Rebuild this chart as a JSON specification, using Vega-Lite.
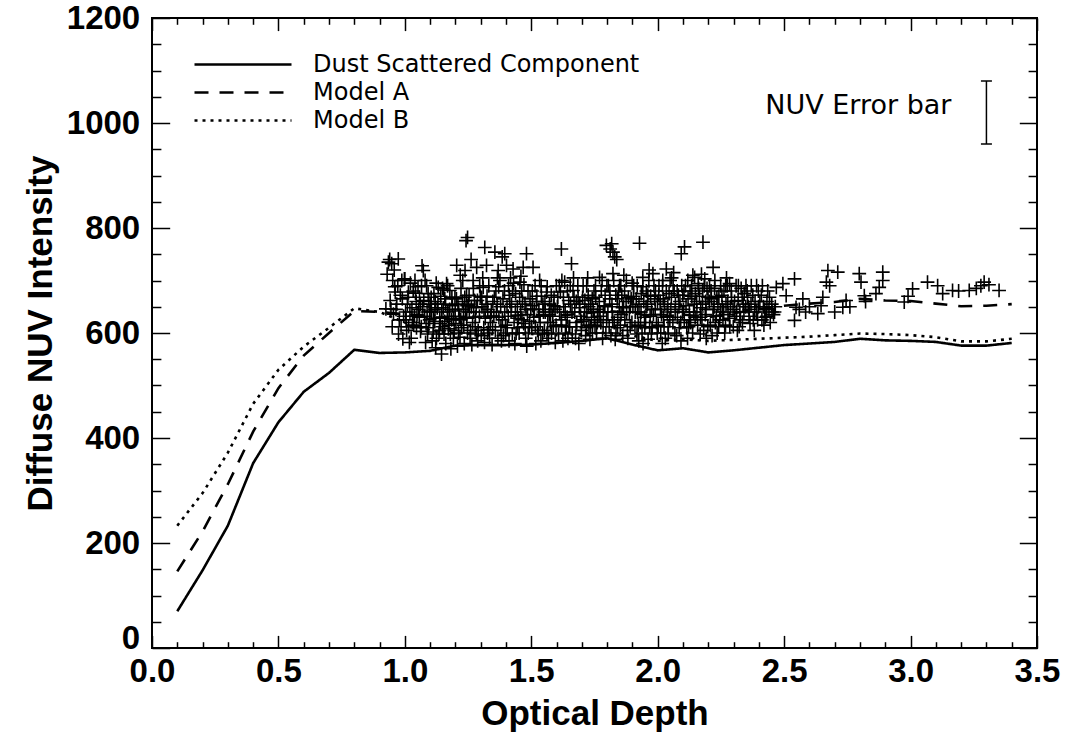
{
  "$schema": "https://vega.github.io/schema/vega-lite/v6.json",
  "width": 885,
  "height": 630,
  "autosize": "none",
  "padding": {"left": 152, "top": 18, "right": 28, "bottom": 85},
  "background": "white",
  "config": {
    "view": {"stroke": "black", "strokeWidth": 2},
    "axis": {"domain": false, "grid": false, "tickColor": "black", "tickWidth": 1.5, "labelColor": "black", "titleColor": "black", "labelFont": "Liberation Sans", "labelFontWeight": "bold", "labelFontSize": 33, "titleFont": "Liberation Sans", "titleFontWeight": "bold", "titleFontSize": 35, "labelFlush": false, "labelOverlap": false, "labelBound": false}
  },
  "datasets": {
    "pts": [
      {"x":0.925,"y":646},{"x":0.93,"y":712},{"x":0.935,"y":735},
      {"x":0.955,"y":636},{"x":0.962,"y":678},{"x":0.948,"y":732},{"x":0.974,"y":741},{"x":0.940,"y":740},{"x":0.952,"y":700},{"x":0.968,"y":655},{"x":0.985,"y":612},{"x":0.992,"y":589},{"x":0.978,"y":625},{"x":0.945,"y":646},{"x":0.998,"y":703},{"x":0.96,"y":688},{"x":0.99,"y":665},{"x":0.975,"y":598},{"x":0.958,"y":720},
      {"x":1.007,"y":605},{"x":1.014,"y":678},{"x":1.0,"y":703},{"x":1.02,"y":640},{"x":1.03,"y":620},{"x":1.045,"y":660},{"x":1.025,"y":590},{"x":1.04,"y":700},{"x":1.01,"y":655},{"x":1.035,"y":615},{"x":1.048,"y":635},{"x":1.018,"y":582},{"x":1.042,"y":676},{"x":1.005,"y":625},
      {"x":1.073,"y":719},{"x":1.068,"y":728},{"x":1.086,"y":690},{"x":1.055,"y":645},{"x":1.062,"y":603},{"x":1.078,"y":632},{"x":1.095,"y":660},{"x":1.09,"y":598},{"x":1.058,"y":668},{"x":1.082,"y":582},{"x":1.098,"y":625},{"x":1.065,"y":612},{"x":1.07,"y":650},{"x":1.088,"y":640},{"x":1.052,"y":688},{"x":1.093,"y":610},
      {"x":1.132,"y":687},{"x":1.105,"y":640},{"x":1.112,"y":602},{"x":1.12,"y":660},{"x":1.125,"y":590},{"x":1.138,"y":630},{"x":1.145,"y":560},{"x":1.148,"y":612},{"x":1.115,"y":675},{"x":1.128,"y":648},{"x":1.108,"y":585},{"x":1.142,"y":670},{"x":1.135,"y":598},{"x":1.118,"y":622},{"x":1.102,"y":655},{"x":1.146,"y":640},{"x":1.122,"y":572},
      {"x":1.165,"y":694},{"x":1.178,"y":681},{"x":1.158,"y":665},{"x":1.17,"y":640},{"x":1.185,"y":625},{"x":1.195,"y":605},{"x":1.155,"y":598},{"x":1.162,"y":580},{"x":1.175,"y":615},{"x":1.188,"y":652},{"x":1.192,"y":590},{"x":1.168,"y":632},{"x":1.152,"y":648},{"x":1.182,"y":570},{"x":1.198,"y":668},{"x":1.172,"y":608},{"x":1.157,"y":622},
      {"x":1.205,"y":729},{"x":1.238,"y":719},{"x":1.244,"y":671},{"x":1.242,"y":776},{"x":1.248,"y":782},{"x":1.21,"y":655},{"x":1.215,"y":632},{"x":1.225,"y":610},{"x":1.232,"y":645},{"x":1.218,"y":592},{"x":1.235,"y":580},{"x":1.245,"y":628},{"x":1.202,"y":618},{"x":1.228,"y":660},{"x":1.212,"y":600},{"x":1.24,"y":640},{"x":1.222,"y":685},{"x":1.248,"y":600},{"x":1.208,"y":575},
      {"x":1.284,"y":725},{"x":1.262,"y":740},{"x":1.27,"y":700},{"x":1.275,"y":662},{"x":1.255,"y":640},{"x":1.268,"y":620},{"x":1.29,"y":605},{"x":1.282,"y":648},{"x":1.258,"y":590},{"x":1.295,"y":632},{"x":1.265,"y":578},{"x":1.278,"y":612},{"x":1.298,"y":670},{"x":1.252,"y":655},{"x":1.288,"y":585},{"x":1.272,"y":640},
      {"x":1.316,"y":763},{"x":1.31,"y":687},{"x":1.323,"y":729},{"x":1.305,"y":650},{"x":1.318,"y":628},{"x":1.33,"y":606},{"x":1.342,"y":640},{"x":1.335,"y":590},{"x":1.312,"y":610},{"x":1.348,"y":660},{"x":1.325,"y":670},{"x":1.302,"y":595},{"x":1.338,"y":620},{"x":1.345,"y":578},{"x":1.328,"y":645},{"x":1.315,"y":582},
      {"x":1.356,"y":754},{"x":1.369,"y":719},{"x":1.395,"y":751},{"x":1.376,"y":700},{"x":1.385,"y":745},{"x":1.36,"y":680},{"x":1.365,"y":655},{"x":1.372,"y":630},{"x":1.38,"y":612},{"x":1.39,"y":595},{"x":1.358,"y":605},{"x":1.395,"y":640},{"x":1.388,"y":665},{"x":1.352,"y":632},{"x":1.382,"y":585},{"x":1.368,"y":590},{"x":1.398,"y":615},
      {"x":1.402,"y":729},{"x":1.428,"y":722},{"x":1.41,"y":690},{"x":1.415,"y":660},{"x":1.42,"y":640},{"x":1.432,"y":620},{"x":1.44,"y":600},{"x":1.405,"y":610},{"x":1.445,"y":650},{"x":1.438,"y":675},{"x":1.412,"y":585},{"x":1.425,"y":598},{"x":1.448,"y":628},{"x":1.418,"y":705},{"x":1.435,"y":580},
      {"x":1.455,"y":697},{"x":1.468,"y":725},{"x":1.481,"y":751},{"x":1.462,"y":680},{"x":1.475,"y":655},{"x":1.485,"y":635},{"x":1.492,"y":610},{"x":1.458,"y":640},{"x":1.47,"y":618},{"x":1.495,"y":665},{"x":1.452,"y":600},{"x":1.478,"y":590},{"x":1.488,"y":600},{"x":1.465,"y":660},{"x":1.498,"y":645},{"x":1.482,"y":575},
      {"x":1.507,"y":725},{"x":1.515,"y":690},{"x":1.52,"y":660},{"x":1.53,"y":645},{"x":1.535,"y":620},{"x":1.545,"y":600},{"x":1.51,"y":630},{"x":1.525,"y":605},{"x":1.54,"y":670},{"x":1.548,"y":640},{"x":1.505,"y":652},{"x":1.538,"y":585},{"x":1.518,"y":580},{"x":1.528,"y":598},{"x":1.502,"y":612},
      {"x":1.56,"y":678},{"x":1.555,"y":640},{"x":1.565,"y":620},{"x":1.572,"y":655},{"x":1.58,"y":600},{"x":1.585,"y":632},{"x":1.59,"y":668},{"x":1.598,"y":615},{"x":1.568,"y":590},{"x":1.578,"y":645},{"x":1.595,"y":582},{"x":1.552,"y":605},{"x":1.588,"y":652},{"x":1.562,"y":598},
      {"x":1.619,"y":760},{"x":1.632,"y":697},{"x":1.605,"y":668},{"x":1.612,"y":640},{"x":1.62,"y":615},{"x":1.628,"y":650},{"x":1.635,"y":600},{"x":1.642,"y":630},{"x":1.648,"y":662},{"x":1.625,"y":585},{"x":1.608,"y":598},{"x":1.638,"y":612},{"x":1.615,"y":678},{"x":1.645,"y":590},
      {"x":1.659,"y":732},{"x":1.665,"y":681},{"x":1.655,"y":655},{"x":1.672,"y":640},{"x":1.68,"y":620},{"x":1.69,"y":648},{"x":1.698,"y":605},{"x":1.662,"y":598},{"x":1.685,"y":668},{"x":1.675,"y":590},{"x":1.695,"y":632},{"x":1.652,"y":612},{"x":1.678,"y":660},{"x":1.688,"y":580},
      {"x":1.705,"y":690},{"x":1.712,"y":662},{"x":1.72,"y":640},{"x":1.728,"y":615},{"x":1.735,"y":655},{"x":1.742,"y":600},{"x":1.748,"y":680},{"x":1.715,"y":595},{"x":1.738,"y":630},{"x":1.725,"y":672},{"x":1.745,"y":645},{"x":1.708,"y":625},{"x":1.732,"y":588},{"x":1.718,"y":610},
      {"x":1.77,"y":706},{"x":1.78,"y":700},{"x":1.797,"y":767},{"x":1.755,"y":668},{"x":1.762,"y":645},{"x":1.775,"y":620},{"x":1.788,"y":652},{"x":1.795,"y":600},{"x":1.758,"y":600},{"x":1.768,"y":632},{"x":1.782,"y":590},{"x":1.792,"y":672},{"x":1.752,"y":615},{"x":1.785,"y":640},{"x":1.798,"y":625},
      {"x":1.823,"y":754},{"x":1.823,"y":713},{"x":1.812,"y":760},{"x":1.83,"y":745},{"x":1.838,"y":740},{"x":1.818,"y":770},{"x":1.805,"y":690},{"x":1.81,"y":665},{"x":1.82,"y":640},{"x":1.828,"y":620},{"x":1.835,"y":600},{"x":1.845,"y":680},{"x":1.848,"y":650},{"x":1.815,"y":595},{"x":1.842,"y":630},{"x":1.808,"y":612},{"x":1.832,"y":588},{"x":1.84,"y":665},
      {"x":1.876,"y":700},{"x":1.858,"y":672},{"x":1.865,"y":650},{"x":1.87,"y":625},{"x":1.88,"y":605},{"x":1.888,"y":640},{"x":1.895,"y":665},{"x":1.852,"y":615},{"x":1.882,"y":590},{"x":1.898,"y":620},{"x":1.862,"y":595},{"x":1.875,"y":660},{"x":1.892,"y":650},{"x":1.855,"y":635},
      {"x":1.928,"y":771},{"x":1.941,"y":706},{"x":1.905,"y":690},{"x":1.915,"y":665},{"x":1.92,"y":640},{"x":1.932,"y":620},{"x":1.938,"y":600},{"x":1.945,"y":660},{"x":1.91,"y":612},{"x":1.925,"y":585},{"x":1.948,"y":630},{"x":1.902,"y":650},{"x":1.935,"y":675},{"x":1.918,"y":598},{"x":1.942,"y":580},
      {"x":1.981,"y":713},{"x":1.965,"y":700},{"x":1.955,"y":680},{"x":1.96,"y":655},{"x":1.97,"y":632},{"x":1.978,"y":610},{"x":1.985,"y":690},{"x":1.99,"y":645},{"x":1.995,"y":620},{"x":1.952,"y":620},{"x":1.975,"y":598},{"x":1.988,"y":665},{"x":1.962,"y":588},{"x":1.998,"y":600},{"x":1.972,"y":670},
      {"x":2.034,"y":722},{"x":2.02,"y":700},{"x":2.005,"y":690},{"x":2.01,"y":660},{"x":2.015,"y":635},{"x":2.025,"y":612},{"x":2.03,"y":590},{"x":2.04,"y":650},{"x":2.045,"y":675},{"x":2.048,"y":625},{"x":2.012,"y":600},{"x":2.038,"y":640},{"x":2.022,"y":665},{"x":2.002,"y":615},{"x":2.042,"y":598},{"x":2.018,"y":580},
      {"x":2.093,"y":751},{"x":2.106,"y":764},{"x":2.055,"y":705},{"x":2.065,"y":680},{"x":2.07,"y":655},{"x":2.078,"y":630},{"x":2.085,"y":610},{"x":2.095,"y":690},{"x":2.06,"y":620},{"x":2.088,"y":660},{"x":2.075,"y":595},{"x":2.098,"y":640},{"x":2.052,"y":645},{"x":2.068,"y":600},{"x":2.082,"y":672},{"x":2.092,"y":585},
      {"x":2.139,"y":710},{"x":2.146,"y":706},{"x":2.11,"y":690},{"x":2.12,"y":665},{"x":2.125,"y":640},{"x":2.13,"y":620},{"x":2.138,"y":600},{"x":2.145,"y":655},{"x":2.115,"y":610},{"x":2.128,"y":680},{"x":2.148,"y":630},{"x":2.102,"y":645},{"x":2.118,"y":590},{"x":2.135,"y":670},{"x":2.105,"y":625},
      {"x":2.179,"y":773},{"x":2.186,"y":703},{"x":2.16,"y":694},{"x":2.165,"y":670},{"x":2.17,"y":648},{"x":2.175,"y":625},{"x":2.182,"y":605},{"x":2.19,"y":660},{"x":2.195,"y":685},{"x":2.155,"y":640},{"x":2.168,"y":598},{"x":2.188,"y":635},{"x":2.198,"y":612},{"x":2.158,"y":615},{"x":2.178,"y":680},{"x":2.192,"y":590},
      {"x":2.219,"y":725},{"x":2.205,"y":690},{"x":2.212,"y":665},{"x":2.22,"y":645},{"x":2.228,"y":620},{"x":2.235,"y":600},{"x":2.242,"y":670},{"x":2.248,"y":640},{"x":2.208,"y":615},{"x":2.225,"y":685},{"x":2.238,"y":655},{"x":2.215,"y":595},{"x":2.245,"y":625},{"x":2.232,"y":632},
      {"x":2.284,"y":694},{"x":2.262,"y":680},{"x":2.27,"y":655},{"x":2.278,"y":635},{"x":2.285,"y":612},{"x":2.292,"y":668},{"x":2.255,"y":650},{"x":2.265,"y":600},{"x":2.298,"y":645},{"x":2.275,"y":690},{"x":2.258,"y":625},{"x":2.288,"y":650},{"x":2.268,"y":615},
      {"x":2.31,"y":690},{"x":2.318,"y":662},{"x":2.325,"y":640},{"x":2.335,"y":620},{"x":2.342,"y":675},{"x":2.305,"y":632},{"x":2.348,"y":650},{"x":2.315,"y":605},{"x":2.33,"y":685},{"x":2.338,"y":655},{"x":2.322,"y":612},
      {"x":2.37,"y":690},{"x":2.355,"y":668},{"x":2.362,"y":645},{"x":2.378,"y":625},{"x":2.385,"y":660},{"x":2.392,"y":640},{"x":2.398,"y":680},{"x":2.365,"y":618},{"x":2.382,"y":605},{"x":2.358,"y":650},{"x":2.395,"y":625},
      {"x":2.41,"y":672},{"x":2.418,"y":650},{"x":2.425,"y":630},{"x":2.432,"y":660},{"x":2.44,"y":645},{"x":2.445,"y":620},{"x":2.452,"y":640},{"x":2.412,"y":625},{"x":2.435,"y":680},{"x":2.458,"y":635},{"x":2.42,"y":615},{"x":2.465,"y":650},
      {"x":2.469,"y":687},{"x":2.495,"y":694},{"x":2.508,"y":671},{"x":2.541,"y":703},{"x":2.547,"y":649},{"x":2.541,"y":624},{"x":2.574,"y":665},{"x":2.56,"y":645},{"x":2.585,"y":640},{"x":2.6,"y":650},{"x":2.633,"y":637},{"x":2.646,"y":652},{"x":2.653,"y":668},{"x":2.667,"y":697},{"x":2.673,"y":719},{"x":2.712,"y":716},{"x":2.68,"y":690},{"x":2.732,"y":649},{"x":2.745,"y":662},{"x":2.7,"y":640},{"x":2.797,"y":713},{"x":2.804,"y":697},{"x":2.817,"y":671},{"x":2.822,"y":660},{"x":2.76,"y":650},{"x":2.863,"y":675},{"x":2.876,"y":687},{"x":2.89,"y":716},{"x":2.89,"y":700},{"x":2.975,"y":659},{"x":2.99,"y":670},{"x":3.008,"y":684},{"x":3.067,"y":697},{"x":3.107,"y":690},{"x":3.127,"y":675},{"x":3.166,"y":681},{"x":3.19,"y":680},{"x":3.232,"y":681},{"x":3.278,"y":690},{"x":3.291,"y":697},{"x":3.35,"y":681},{"x":3.26,"y":685},{"x":3.31,"y":692},
      {"x":0.965,"y":645},{"x":0.982,"y":672},{"x":0.95,"y":612},{"x":0.995,"y":632},{"x":0.972,"y":690},{"x":0.988,"y":700},{"x":0.942,"y":662},
      {"x":1.012,"y":668},{"x":1.028,"y":648},{"x":1.038,"y":632},{"x":1.022,"y":695},{"x":1.046,"y":610},{"x":1.003,"y":640},{"x":1.033,"y":680},{"x":1.015,"y":612},
      {"x":1.057,"y":630},{"x":1.066,"y":690},{"x":1.075,"y":662},{"x":1.084,"y":618},{"x":1.092,"y":675},{"x":1.099,"y":642},{"x":1.061,"y":655},{"x":1.08,"y":700},
      {"x":1.104,"y":668},{"x":1.113,"y":628},{"x":1.124,"y":695},{"x":1.131,"y":655},{"x":1.14,"y":618},{"x":1.149,"y":685},{"x":1.119,"y":645},{"x":1.137,"y":605},
      {"x":1.154,"y":682},{"x":1.161,"y":655},{"x":1.169,"y":690},{"x":1.177,"y":645},{"x":1.186,"y":668},{"x":1.193,"y":628},{"x":1.199,"y":642},{"x":1.18,"y":598},
      {"x":1.204,"y":665},{"x":1.213,"y":645},{"x":1.221,"y":625},{"x":1.229,"y":700},{"x":1.237,"y":668},{"x":1.246,"y":652},{"x":1.219,"y":710},{"x":1.233,"y":615},
      {"x":1.254,"y":672},{"x":1.263,"y":650},{"x":1.271,"y":685},{"x":1.279,"y":630},{"x":1.287,"y":662},{"x":1.296,"y":690},{"x":1.26,"y":605},{"x":1.283,"y":598},
      {"x":1.304,"y":668},{"x":1.313,"y":640},{"x":1.321,"y":655},{"x":1.332,"y":690},{"x":1.339,"y":632},{"x":1.347,"y":612},{"x":1.308,"y":705},{"x":1.327,"y":600},
      {"x":1.354,"y":668},{"x":1.362,"y":640},{"x":1.371,"y":688},{"x":1.379,"y":650},{"x":1.386,"y":625},{"x":1.394,"y":680},{"x":1.399,"y":600},{"x":1.366,"y":705},
      {"x":1.404,"y":650},{"x":1.413,"y":672},{"x":1.422,"y":655},{"x":1.43,"y":695},{"x":1.437,"y":640},{"x":1.446,"y":610},{"x":1.409,"y":632},{"x":1.426,"y":680},
      {"x":1.454,"y":668},{"x":1.463,"y":625},{"x":1.471,"y":692},{"x":1.479,"y":645},{"x":1.487,"y":680},{"x":1.494,"y":622},{"x":1.459,"y":708},{"x":1.476,"y":612},
      {"x":1.504,"y":680},{"x":1.512,"y":645},{"x":1.522,"y":670},{"x":1.531,"y":632},{"x":1.539,"y":690},{"x":1.546,"y":655},{"x":1.516,"y":612},{"x":1.533,"y":700},
      {"x":1.554,"y":660},{"x":1.563,"y":688},{"x":1.571,"y":635},{"x":1.579,"y":672},{"x":1.587,"y":612},{"x":1.594,"y":645},{"x":1.599,"y":690},{"x":1.576,"y":620},
      {"x":1.603,"y":650},{"x":1.611,"y":690},{"x":1.618,"y":625},{"x":1.627,"y":668},{"x":1.634,"y":640},{"x":1.643,"y":680},{"x":1.649,"y":612},{"x":1.621,"y":700},
      {"x":1.654,"y":690},{"x":1.661,"y":640},{"x":1.669,"y":668},{"x":1.677,"y":612},{"x":1.684,"y":690},{"x":1.692,"y":655},{"x":1.699,"y":622},{"x":1.667,"y":705},
      {"x":1.703,"y":668},{"x":1.711,"y":640},{"x":1.719,"y":690},{"x":1.727,"y":650},{"x":1.734,"y":612},{"x":1.741,"y":665},{"x":1.749,"y":625},{"x":1.723,"y":705},
      {"x":1.754,"y":690},{"x":1.761,"y":620},{"x":1.769,"y":660},{"x":1.777,"y":680},{"x":1.784,"y":612},{"x":1.791,"y":650},{"x":1.799,"y":690},{"x":1.772,"y":640},
      {"x":1.803,"y":640},{"x":1.811,"y":680},{"x":1.819,"y":655},{"x":1.826,"y":700},{"x":1.834,"y":672},{"x":1.841,"y":610},{"x":1.849,"y":690},{"x":1.822,"y":625},
      {"x":1.854,"y":690},{"x":1.861,"y":648},{"x":1.869,"y":680},{"x":1.877,"y":640},{"x":1.884,"y":668},{"x":1.891,"y":612},{"x":1.899,"y":695},{"x":1.866,"y":710},
      {"x":1.904,"y":670},{"x":1.911,"y":640},{"x":1.919,"y":690},{"x":1.926,"y":655},{"x":1.934,"y":640},{"x":1.941,"y":688},{"x":1.949,"y":610},{"x":1.923,"y":615},
      {"x":1.954,"y":650},{"x":1.961,"y":672},{"x":1.968,"y":612},{"x":1.976,"y":645},{"x":1.983,"y":635},{"x":1.991,"y":680},{"x":1.999,"y":660},{"x":1.966,"y":720},
      {"x":2.004,"y":672},{"x":2.011,"y":645},{"x":2.019,"y":690},{"x":2.027,"y":655},{"x":2.034,"y":680},{"x":2.041,"y":612},{"x":2.049,"y":700},{"x":2.023,"y":630},
      {"x":2.054,"y":668},{"x":2.061,"y":690},{"x":2.069,"y":640},{"x":2.077,"y":680},{"x":2.084,"y":650},{"x":2.091,"y":620},{"x":2.099,"y":672},{"x":2.063,"y":715},
      {"x":2.104,"y":680},{"x":2.112,"y":652},{"x":2.119,"y":700},{"x":2.127,"y":625},{"x":2.134,"y":690},{"x":2.142,"y":640},{"x":2.149,"y":675},{"x":2.122,"y":612},
      {"x":2.154,"y":660},{"x":2.162,"y":685},{"x":2.169,"y":630},{"x":2.177,"y":655},{"x":2.184,"y":690},{"x":2.191,"y":645},{"x":2.199,"y":668},{"x":2.173,"y":712},
      {"x":2.204,"y":660},{"x":2.211,"y":680},{"x":2.219,"y":632},{"x":2.226,"y":700},{"x":2.234,"y":668},{"x":2.241,"y":612},{"x":2.249,"y":690},{"x":2.223,"y":650},
      {"x":2.254,"y":672},{"x":2.261,"y":640},{"x":2.269,"y":690},{"x":2.277,"y":660},{"x":2.284,"y":628},{"x":2.291,"y":680},{"x":2.299,"y":612},{"x":2.272,"y":705},
      {"x":2.304,"y":660},{"x":2.312,"y":640},{"x":2.319,"y":690},{"x":2.327,"y":625},{"x":2.334,"y":668},{"x":2.341,"y":640},{"x":2.349,"y":690},
      {"x":2.354,"y":680},{"x":2.361,"y":632},{"x":2.369,"y":655},{"x":2.376,"y":672},{"x":2.384,"y":640},{"x":2.391,"y":690},{"x":2.399,"y":650},
      {"x":2.404,"y":660},{"x":2.414,"y":690},{"x":2.423,"y":645},{"x":2.431,"y":632},{"x":2.442,"y":668},{"x":2.451,"y":655},{"x":2.462,"y":640}
    ],
    "lines": [
      {"s":"Dust Scattered Component","x":0.1,"y":70},{"s":"Dust Scattered Component","x":0.2,"y":148},{"s":"Dust Scattered Component","x":0.3,"y":233},{"s":"Dust Scattered Component","x":0.4,"y":352},{"s":"Dust Scattered Component","x":0.5,"y":430},{"s":"Dust Scattered Component","x":0.6,"y":488},{"s":"Dust Scattered Component","x":0.7,"y":524},{"s":"Dust Scattered Component","x":0.8,"y":568},{"s":"Dust Scattered Component","x":0.9,"y":562},{"s":"Dust Scattered Component","x":1.0,"y":563},{"s":"Dust Scattered Component","x":1.1,"y":566},{"s":"Dust Scattered Component","x":1.2,"y":576},{"s":"Dust Scattered Component","x":1.3,"y":577},{"s":"Dust Scattered Component","x":1.4,"y":577},{"s":"Dust Scattered Component","x":1.5,"y":578},{"s":"Dust Scattered Component","x":1.6,"y":581},{"s":"Dust Scattered Component","x":1.7,"y":585},{"s":"Dust Scattered Component","x":1.8,"y":590},{"s":"Dust Scattered Component","x":1.9,"y":578},{"s":"Dust Scattered Component","x":2.0,"y":567},{"s":"Dust Scattered Component","x":2.1,"y":571},{"s":"Dust Scattered Component","x":2.2,"y":563},{"s":"Dust Scattered Component","x":2.3,"y":567},{"s":"Dust Scattered Component","x":2.4,"y":572},{"s":"Dust Scattered Component","x":2.5,"y":577},{"s":"Dust Scattered Component","x":2.6,"y":580},{"s":"Dust Scattered Component","x":2.7,"y":583},{"s":"Dust Scattered Component","x":2.8,"y":589},{"s":"Dust Scattered Component","x":2.9,"y":586},{"s":"Dust Scattered Component","x":3.0,"y":585},{"s":"Dust Scattered Component","x":3.1,"y":583},{"s":"Dust Scattered Component","x":3.2,"y":576},{"s":"Dust Scattered Component","x":3.3,"y":576},{"s":"Dust Scattered Component","x":3.4,"y":581},
      {"s":"Model A","x":0.1,"y":146},{"s":"Model A","x":0.2,"y":222},{"s":"Model A","x":0.3,"y":312},{"s":"Model A","x":0.4,"y":412},{"s":"Model A","x":0.5,"y":495},{"s":"Model A","x":0.6,"y":557},{"s":"Model A","x":0.7,"y":600},{"s":"Model A","x":0.8,"y":642},{"s":"Model A","x":0.9,"y":640},{"s":"Model A","x":1.0,"y":636},{"s":"Model A","x":1.1,"y":630},{"s":"Model A","x":1.2,"y":628},{"s":"Model A","x":1.3,"y":630},{"s":"Model A","x":1.4,"y":632},{"s":"Model A","x":1.5,"y":635},{"s":"Model A","x":1.6,"y":633},{"s":"Model A","x":1.7,"y":637},{"s":"Model A","x":1.8,"y":642},{"s":"Model A","x":1.9,"y":638},{"s":"Model A","x":2.0,"y":630},{"s":"Model A","x":2.1,"y":635},{"s":"Model A","x":2.2,"y":630},{"s":"Model A","x":2.3,"y":638},{"s":"Model A","x":2.4,"y":645},{"s":"Model A","x":2.5,"y":652},{"s":"Model A","x":2.6,"y":656},{"s":"Model A","x":2.7,"y":659},{"s":"Model A","x":2.8,"y":665},{"s":"Model A","x":2.9,"y":662},{"s":"Model A","x":3.0,"y":661},{"s":"Model A","x":3.1,"y":656},{"s":"Model A","x":3.2,"y":651},{"s":"Model A","x":3.3,"y":652},{"s":"Model A","x":3.4,"y":655},
      {"s":"Model B","x":0.1,"y":233},{"s":"Model B","x":0.2,"y":295},{"s":"Model B","x":0.3,"y":372},{"s":"Model B","x":0.4,"y":465},{"s":"Model B","x":0.5,"y":530},{"s":"Model B","x":0.6,"y":574},{"s":"Model B","x":0.7,"y":610},{"s":"Model B","x":0.8,"y":647},{"s":"Model B","x":0.9,"y":640},{"s":"Model B","x":1.0,"y":620},{"s":"Model B","x":1.1,"y":605},{"s":"Model B","x":1.2,"y":600},{"s":"Model B","x":1.3,"y":598},{"s":"Model B","x":1.4,"y":597},{"s":"Model B","x":1.5,"y":598},{"s":"Model B","x":1.6,"y":596},{"s":"Model B","x":1.7,"y":598},{"s":"Model B","x":1.8,"y":600},{"s":"Model B","x":1.9,"y":595},{"s":"Model B","x":2.0,"y":585},{"s":"Model B","x":2.1,"y":588},{"s":"Model B","x":2.2,"y":585},{"s":"Model B","x":2.3,"y":587},{"s":"Model B","x":2.4,"y":589},{"s":"Model B","x":2.5,"y":591},{"s":"Model B","x":2.6,"y":593},{"s":"Model B","x":2.7,"y":596},{"s":"Model B","x":2.8,"y":599},{"s":"Model B","x":2.9,"y":598},{"s":"Model B","x":3.0,"y":596},{"s":"Model B","x":3.1,"y":592},{"s":"Model B","x":3.2,"y":584},{"s":"Model B","x":3.3,"y":584},{"s":"Model B","x":3.4,"y":589}
    ],
    "err": [{"x":3.3,"y":1020,"lo":960,"hi":1080,"label":"NUV Error bar"}]
  },
  "layer": [
    {
      "data": {"name": "pts"},
      "mark": {"type": "point", "shape": "M-1,0L1,0M0,-1L0,1", "size": 190, "filled": false, "stroke": "black", "strokeWidth": 1.6, "opacity": 1},
      "encoding": {
        "x": {"field": "x", "type": "quantitative", "scale": {"domain": [0, 3.5], "nice": false, "zero": false},
          "axis": {"orient": "bottom", "title": "Optical Depth", "titlePadding": 2, "labelPadding": 20,
            "values": [0,0.1,0.2,0.3,0.4,0.5,0.6,0.7,0.8,0.9,1,1.1,1.2,1.3,1.4,1.5,1.6,1.7,1.8,1.9,2,2.1,2.2,2.3,2.4,2.5,2.6,2.7,2.8,2.9,3,3.1,3.2,3.3,3.4,3.5],
            "labelExpr": "abs(datum.value*2 - round(datum.value*2)) < 0.001 ? format(datum.value, '.1f') : ''",
            "tickSize": {"condition": {"test": "abs(datum.value*2 - round(datum.value*2)) < 0.001", "value": -12.6}, "value": -6.3}}},
        "y": {"field": "y", "type": "quantitative", "scale": {"domain": [0, 1200], "nice": false, "zero": false},
          "axis": {"orient": "left", "title": "Diffuse NUV Intensity", "titlePadding": 8, "labelPadding": 30,
            "values": [0,50,100,150,200,250,300,350,400,450,500,550,600,650,700,750,800,850,900,950,1000,1050,1100,1150,1200],
            "labelExpr": "datum.value % 200 == 0 ? format(datum.value, 'd') : ''",
            "labelBaseline": {"condition": {"test": "datum.value == 0", "value": "alphabetic"}, "value": "middle"},
            "tickSize": {"condition": {"test": "datum.value % 200 == 0", "value": -17.7}, "value": -8.9}}}
      }
    },
    {
      "data": {"name": "lines"},
      "mark": {"type": "line", "stroke": "black", "strokeWidth": 2.6},
      "encoding": {
        "x": {"field": "x", "type": "quantitative",
          "axis": {"orient": "top", "title": null, "labels": false,
            "values": [0,0.1,0.2,0.3,0.4,0.5,0.6,0.7,0.8,0.9,1,1.1,1.2,1.3,1.4,1.5,1.6,1.7,1.8,1.9,2,2.1,2.2,2.3,2.4,2.5,2.6,2.7,2.8,2.9,3,3.1,3.2,3.3,3.4,3.5],
            "tickSize": {"condition": {"test": "abs(datum.value*2 - round(datum.value*2)) < 0.001", "value": -12.6}, "value": -6.3}}},
        "y": {"field": "y", "type": "quantitative",
          "axis": {"orient": "right", "title": null, "labels": false,
            "values": [0,50,100,150,200,250,300,350,400,450,500,550,600,650,700,750,800,850,900,950,1000,1050,1100,1150,1200],
            "tickSize": {"condition": {"test": "datum.value % 200 == 0", "value": -17.7}, "value": -8.9}}},
        "strokeDash": {"field": "s", "type": "nominal",
          "scale": {"domain": ["Dust Scattered Component", "Model A", "Model B"], "range": [[1, 0], [14, 11], [3, 5]]},
          "legend": {"orient": "none", "legendX": 41, "legendY": 32.5, "title": null, "symbolType": "stroke", "symbolSize": 9409, "symbolStrokeWidth": 2.6, "symbolStrokeColor": "black", "labelFont": "DejaVu Sans", "labelFontSize": 24, "labelColor": "black", "labelOffset": 20, "clipHeight": 28, "rowPadding": 0, "padding": 0, "labelLimit": 0}}
      }
    },
    {
      "data": {"name": "err"},
      "mark": {"type": "rule", "stroke": "black", "strokeWidth": 1.5},
      "encoding": {
        "x": {"field": "x", "type": "quantitative", "axis": null},
        "y": {"field": "lo", "type": "quantitative", "axis": null},
        "y2": {"field": "hi"}
      }
    },
    {
      "data": {"name": "err"},
      "mark": {"type": "tick", "orient": "horizontal", "size": 11, "thickness": 1.5, "color": "black", "opacity": 1},
      "encoding": {
        "x": {"field": "x", "type": "quantitative", "axis": null},
        "y": {"field": "lo", "type": "quantitative", "axis": null}
      }
    },
    {
      "data": {"name": "err"},
      "mark": {"type": "tick", "orient": "horizontal", "size": 11, "thickness": 1.5, "color": "black", "opacity": 1},
      "encoding": {
        "x": {"field": "x", "type": "quantitative", "axis": null},
        "y": {"field": "hi", "type": "quantitative", "axis": null}
      }
    },
    {
      "data": {"name": "err"},
      "mark": {"type": "text", "align": "right", "baseline": "alphabetic", "dx": -35, "dy": 1, "font": "DejaVu Sans", "fontSize": 27, "color": "black"},
      "encoding": {
        "x": {"field": "x", "type": "quantitative", "axis": null},
        "y": {"field": "y", "type": "quantitative", "axis": null},
        "text": {"field": "label"}
      }
    }
  ],
  "resolve": {"axis": {"x": "independent", "y": "independent"}}
}
